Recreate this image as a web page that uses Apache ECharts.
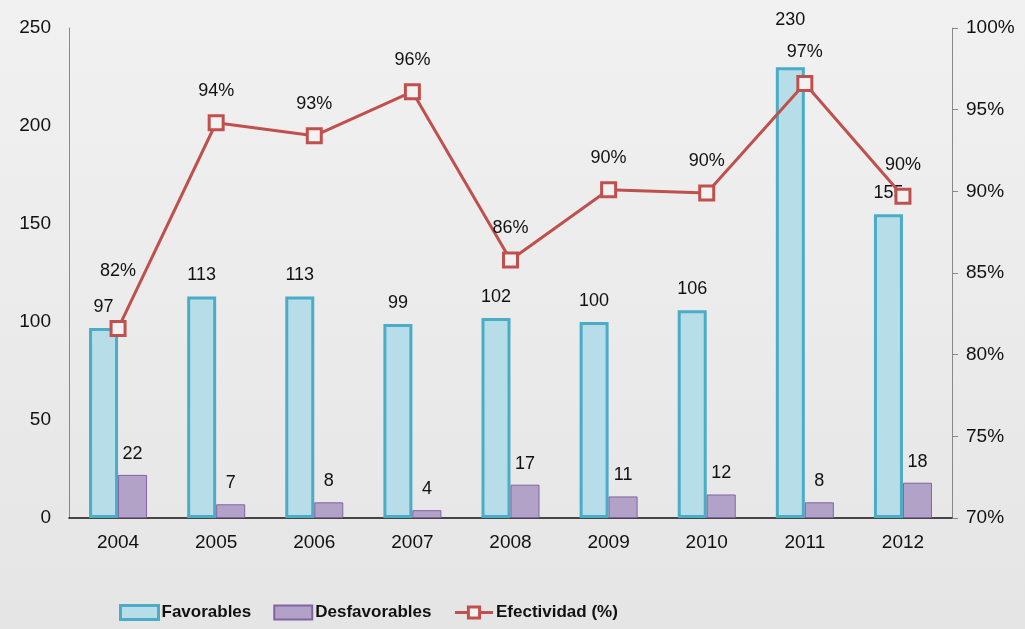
<!DOCTYPE html>
<html>
<head>
<meta charset="utf-8">
<script src="https://cdn.jsdelivr.net/npm/echarts@6/dist/echarts.min.js"></script>
<style>
html,body{margin:0;padding:0;}
#c{width:1025px;height:629px;}
</style>
</head>
<body>
<div id="c"></div>
<script>
var years = ['2004','2005','2006','2007','2008','2009','2010','2011','2012'];
var favorables = [97,113,113,99,102,100,106,230,155];
var desfavorables = [22,7,8,4,17,11,12,8,18];
var efectividad = [81.6,94.2,93.4,96.1,85.8,90.1,89.9,96.6,89.7];
var leftTicks = [0,50,100,150,200,250];
var rightTicks = [70,75,80,85,90,95,100];

var FONT = '"Liberation Sans", Arial, sans-serif';
var chart = echarts.init(document.getElementById('c'));

var favData = favorables.map(function(v,i){
  var d = {value:v};
  if (i === 7) d.label = {offset:[0,-26]};
  return d;
});
var effData = efectividad.map(function(v,i){
  var d = {value:v};
  if (i === 0) d.label = {offset:[0,-26]};
  return d;
});

chart.setOption({
  backgroundColor: {
    type:'linear', x:0, y:0, x2:0, y2:1,
    colorStops:[{offset:0,color:'#f1f1f1'},{offset:1,color:'#e5e5e5'}]
  },
  animation:false,
  textStyle:{fontFamily:FONT},
  grid:{left:69, right:73, top:28, bottom:111, containLabel:false},
  legend:{
    left:114, bottom:3, itemGap:22, itemWidth:38, itemHeight:14,
    textStyle:{fontSize:17, fontWeight:'bold', color:'#111', fontFamily:FONT, padding:[0,0,0,-2]},
    data:[
      {name:'Favorables', icon:'rect', itemStyle:{borderWidth:3}},
      {name:'Desfavorables', icon:'rect'},
      {name:'Efectividad (%)', lineStyle:{width:3}, itemStyle:{borderWidth:3}}
    ]
  },
  xAxis:{
    type:'category', data:years,
    axisLine:{lineStyle:{color:'#111', width:1.5}},
    axisTick:{show:false},
    axisLabel:{fontSize:19, color:'#111', margin:15, fontFamily:FONT}
  },
  yAxis:[
    {
      type:'value', min:0, max:250, interval:50,
      axisLine:{show:true, lineStyle:{color:'#888'}},
      axisTick:{show:false},
      splitLine:{show:false},
      axisLabel:{fontSize:19, color:'#111', margin:18, fontFamily:FONT}
    },
    {
      type:'value', min:70, max:100, interval:5, position:'right',
      axisLine:{show:true, lineStyle:{color:'#888'}},
      axisTick:{show:true, length:6, lineStyle:{color:'#888'}},
      splitLine:{show:false},
      axisLabel:{fontSize:19, color:'#111', margin:14, formatter:'{value}%', fontFamily:FONT}
    }
  ],
  series:[
    {
      name:'Favorables', type:'bar', data:favData, barWidth:29, barGap:'0%',
      itemStyle:{color:'#B7DEE8', borderColor:'#4BACC6', borderWidth:3},
      label:{show:true, position:'top', distance:12, fontSize:18, color:'#111', fontFamily:FONT}
    },
    {
      name:'Desfavorables', type:'bar', data:desfavorables, barWidth:29,
      itemStyle:{color:'#B3A2C7', borderColor:'#8064A2', borderWidth:1},
      label:{show:true, position:'top', distance:12, fontSize:18, color:'#111', fontFamily:FONT}
    },
    {
      name:'Efectividad (%)', type:'line', yAxisIndex:1, data:effData,
      symbol:'rect', symbolSize:14,
      lineStyle:{color:'#C0504D', width:3},
      itemStyle:{color:'#f2f2f2', borderColor:'#C0504D', borderWidth:3},
      label:{show:true, position:'top', distance:14, fontSize:18, color:'#111', fontFamily:FONT,
        formatter:function(p){return Math.round(p.value)+'%';}},
      z:5
    }
  ]
});
</script>
</body>
</html>
